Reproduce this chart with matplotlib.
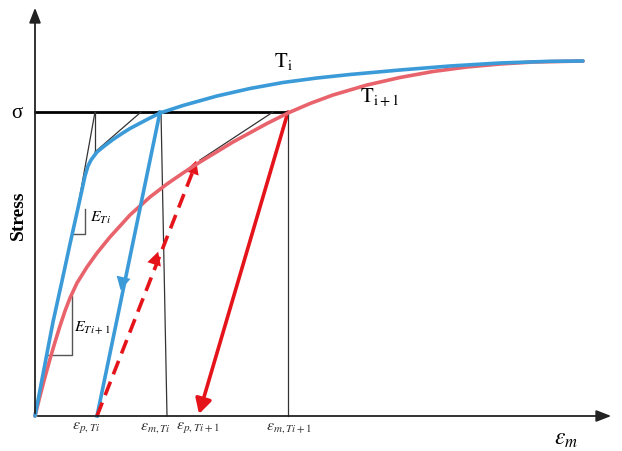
import matplotlib.pyplot as plt
from matplotlib.patches import FancyArrowPatch

plt.rcParams["mathtext.fontset"] = "stix"
plt.rcParams["font.family"] = ["Liberation Serif", "DejaVu Serif"]

# schematic drawn in picture units (x to the right, y downwards)
ORIGIN = (35, 417)
SIGMA_Y = 113

# T_i curve (blue)
ti_x = [35, 44, 53, 62, 70, 80, 85, 88, 91, 97, 105, 113, 122, 130, 147, 160, 183, 217, 250,
        283, 317, 350, 400, 450, 500, 550, 583]
ti_y = [417, 370, 323, 282, 245, 200, 177, 167, 161, 153, 146.5, 140.5, 134.5, 129.5, 120.5, 114,
        106.5, 97, 89.5, 83.5, 79, 75.5, 71, 67, 64, 62.3, 62]

# T_i+1 curve (red)
ti1_x = [35, 40, 45, 50, 55, 60, 65, 70, 77, 87, 97, 110, 130, 150, 167, 183, 200, 233, 267,
         288, 310, 333, 367, 400, 433, 467, 500, 533, 583]
ti1_y = [417, 397, 378, 360, 343, 327, 312, 299, 284, 268, 254, 238, 216, 198, 185, 174, 163,
         143, 124.5, 114, 104.5, 96, 86, 78.5, 72.5, 68, 65, 63, 62]

# unloading / reloading paths
unload_ti = [(160, 113), (97, 417)]
unload_ti1 = [(288, 113), (199, 415)]
reload_ti1 = [(97, 417), (197, 160)]

# thin helper lines
eps_m_ti_line = [(161, 113), (167, 417)]
eps_m_ti1_line = [(288, 113), (288, 417)]
tangent_ti_a = [(73, 235), (95, 113)]
tangent_ti_drop = [(95, 113), (95, 153)]
tangent_ti_b = [(95, 153), (141, 113)]
tangent_ti1 = [(200, 161), (273, 113)]
tri_ti = [(73, 235), (85, 235), (85, 210)]
tri_ti1 = [(48, 356), (72, 356), (72, 297)]

blue = "#3b9bd8"
red_curve = "#e8636b"
red = "#e5141b"

fig = plt.figure(figsize=(6.22, 4.52), dpi=100)
ax = fig.add_axes([0, 0, 1, 1])
ax.set_xlim(0, 622)
ax.set_ylim(452, 0)
ax.axis("off")

# axes arrows
ax.annotate("", xy=(35, 6), xytext=ORIGIN,
            arrowprops=dict(arrowstyle="-|>,head_length=0.9,head_width=0.35", lw=1.3, color="#222222"))
ax.annotate("", xy=(614, 417), xytext=ORIGIN,
            arrowprops=dict(arrowstyle="-|>,head_length=0.9,head_width=0.35", lw=1.3, color="#222222"))

# sigma line
ax.plot([35, 288], [SIGMA_Y, SIGMA_Y], color="black", lw=2)

# thin lines
for seg in [eps_m_ti_line, eps_m_ti1_line, tangent_ti_a, tangent_ti_drop, tangent_ti_b, tangent_ti1]:
    ax.plot([p[0] for p in seg], [p[1] for p in seg], color="#333333", lw=0.9)
for tri in [tri_ti, tri_ti1]:
    ax.plot([p[0] for p in tri], [p[1] for p in tri], color="#555555", lw=1.0)

# curves
ax.plot(ti1_x, ti1_y, color=red_curve, lw=2.6, solid_capstyle="round", solid_joinstyle="round")
ax.plot(ti_x, ti_y, color=blue, lw=2.6, solid_capstyle="round", solid_joinstyle="round")

# blue unloading line with mid arrow
ax.plot([p[0] for p in unload_ti], [p[1] for p in unload_ti], color=blue, lw=2.6)
ax.add_patch(FancyArrowPatch((125, 272), (120, 294), arrowstyle="-|>,head_length=6,head_width=3.2",
                             color=blue, lw=0, mutation_scale=1.6))

# red unloading arrow
ax.add_patch(FancyArrowPatch(unload_ti1[0], unload_ti1[1], arrowstyle="-|>,head_length=5.5,head_width=3",
                             color=red, lw=2.6, mutation_scale=1.6, shrinkA=0, shrinkB=0))

# red dashed reload line with two arrow heads
ax.plot([reload_ti1[0][0], 193], [reload_ti1[0][1], 172], color=red, lw=2.6, ls=(0, (4, 2.2)))
ax.add_patch(FancyArrowPatch((152, 272), (159, 250), arrowstyle="-|>,head_length=6,head_width=3.2",
                             color=red, lw=0, mutation_scale=1.6))
ax.add_patch(FancyArrowPatch((190, 180), (197, 159), arrowstyle="-|>,head_length=6,head_width=3.2",
                             color=red, lw=0, mutation_scale=1.6))

# labels
ax.text(17, 113, "σ", fontsize=15, ha="center", va="center")
ax.text(18, 215, "Stress", fontsize=14, fontweight="bold", rotation=90, ha="center", va="center")
ax.text(283, 62, r"$\mathrm{T_i}$", fontsize=15, ha="center", va="center")
ax.text(380, 98, r"$\mathrm{T_{i+1}}$", fontsize=15, ha="center", va="center")
ax.text(100, 218, r"$E_{Ti}$", fontsize=11.5, ha="center", va="center")
ax.text(92, 328, r"$E_{Ti+1}$", fontsize=11.5, ha="center", va="center")
ax.text(566, 440, r"$\boldsymbol{\varepsilon_m}$", fontsize=17, ha="center", va="center")

tick_labels = [r"$\varepsilon_{p,Ti}$", r"$\varepsilon_{m,Ti}$", r"$\varepsilon_{p,Ti+1}$", r"$\varepsilon_{m,Ti+1}$"]
tick_pos = [86, 155, 198, 289]
for lab, xp in zip(tick_labels, tick_pos):
    ax.text(xp, 427, lab, fontsize=11.5, ha="center", va="center", color="#333333")

fig.savefig("out.png", dpi=100)
